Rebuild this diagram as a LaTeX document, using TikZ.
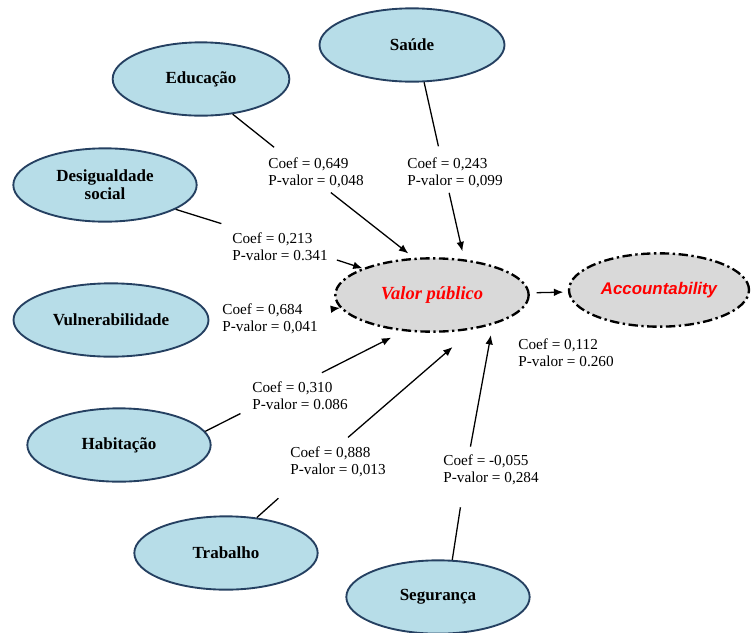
\documentclass[tikz,border=0pt]{standalone}
\usepackage{fontspec}
\setmainfont{Liberation Serif}
\newfontfamily\accfont{Liberation Sans}
\usetikzlibrary{shapes.geometric,arrows.meta}
\definecolor{factorfill}{HTML}{B7DDE8}
\definecolor{factordraw}{HTML}{254061}
\definecolor{latentfill}{HTML}{D9D9D9}

\begin{document}
\begin{tikzpicture}[x=0.03cm,y=-0.03cm,
      factor/.style ={ellipse, draw=factordraw, fill=factorfill, line width=1.6pt, inner sep=1pt,
                      minimum width=5.5cm, minimum height=2.2cm, align=center,
                      font=\fontsize{14.5}{15.5}\selectfont\bfseries},
      latent/.style ={ellipse, draw, fill=latentfill, line width=2pt,
                      dash pattern=on 8pt off 3pt on 2pt off 3pt,
                      minimum width=5.8cm, minimum height=2.2cm, text=red},
      coef/.style ={align=left, inner sep=1pt, font=\fontsize{13}{14.5}\selectfont},
      link/.style ={line width=1.1pt},
      effect/.style ={link, -{Latex[length=8pt,width=6.5pt]}}]
   \useasboundingbox (0,0) rectangle (753,632);
   \node[factor, minimum width=5.3cm] (edu) at (201,79) {Educação};
   \node[factor, minimum width=5.55cm] (sau) at (412,45) {Saúde};
   \node[factor] (des) at (105,185) {Desigualdade\\social};
   \node[factor, minimum width=5.85cm] (vul) at (111,320) {Vulnerabilidade};
   \node[factor] (hab) at (119,445) {Habitação};
   \node[factor] (trab) at (226,553) {Trabalho};
   \node[factor] (seg) at (438,597) {Segurança};
   \node[latent, font=\fontsize{15.8}{17}\selectfont\bfseries\itshape] (vp) at (432,295) {Valor público};
   \node[latent, minimum width=5.4cm, font=\accfont\fontsize{14.4}{16}\selectfont\bfseries\itshape] (acc) at (659,290) {Accountability};
   \node[coef] (l1) at (316,172.5) {Coef = 0,649\\P-valor = 0,048};
   \node[coef] (l2) at (455,173) {Coef = 0,243\\P-valor = 0,099};
   \node[coef] (l3) at (280,247) {Coef = 0,213\\P-valor = 0.341};
   \node[coef] (l4) at (270,318.5) {Coef = 0,684\\P-valor = 0,041};
   \node[coef] (l5) at (300,396) {Coef = 0,310\\P-valor = 0.086};
   \node[coef] (l6) at (338,461.5) {Coef = 0,888\\P-valor = 0,013};
   \node[coef] (l7) at (491,470) {Coef = -0,055\\P-valor = 0,284};
   \node[coef] (l8) at (566,352.5) {Coef = 0,112\\P-valor = 0.260};
   \draw[link, shorten >=12pt] (edu.-48) -- (l1.152.5);
   \draw[effect, shorten <=5pt, shorten >=6pt] (l1.-58.8) -- (vp.116);
   \draw[link, shorten >=9pt] (sau.-72) -- (l2.131);
   \draw[effect, shorten <=3pt, shorten >=7pt] (l2.-112.7) -- (vp.48);
   \draw[link, shorten >=23pt] (des.-19) -- (l3.155);
   \draw[effect, shorten <=7pt] (l3.-12) -- (vp.159);
   \draw[effect, shorten <=11pt] (l4.9) -- (vp.188);
   \draw[link, shorten >=10pt] (hab.9) -- (l5.-166);
   \draw[effect, shorten <=15pt, shorten >=12pt] (l5.68) -- (vp.-128);
   \draw[link, shorten >=26pt] (trab.49) -- (l6.-156);
   \draw[effect, shorten <=10pt, shorten >=23pt] (l6.86) -- (vp.-40);
   \draw[link, shorten >=18pt] (seg.69) -- (l7.-149);
   \draw[effect, shorten <=6pt, shorten >=9pt] (l7.143) -- (vp.-26);
   \draw[effect, shorten <=6pt, shorten >=4pt] (vp) -- (acc);
 \end{tikzpicture}
\end{document}
